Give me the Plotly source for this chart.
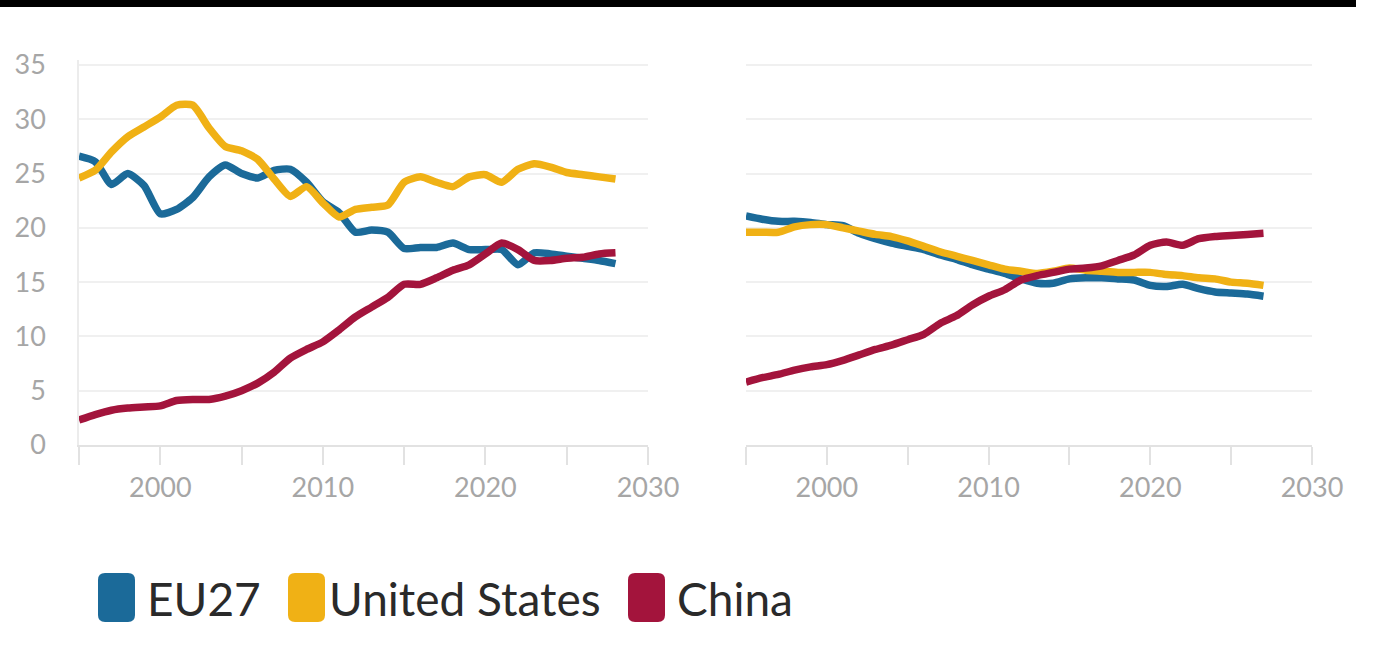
import plotly.graph_objects as go

# ---------------- data ----------------
years_left = list(range(1995, 2029))
years_right = list(range(1995, 2028))

series_names = ["EU27", "United States", "China"]
series_colors = ["#1b6a99", "#f0b115", "#a3143c"]

eu_left = [26.6, 26.1, 24.0, 25.0, 23.9, 21.3, 21.7, 22.8, 24.7, 25.8, 25.0, 24.6,
           25.3, 25.4, 24.2, 22.4, 21.4, 19.6, 19.8, 19.6, 18.1, 18.2, 18.2, 18.6,
           18.0, 18.0, 18.0, 16.6, 17.7, 17.6, 17.4, 17.2, 17.0, 16.7]
us_left = [24.6, 25.3, 27.0, 28.4, 29.3, 30.2, 31.3, 31.3, 29.2, 27.5, 27.1, 26.3,
           24.5, 22.9, 23.8, 22.3, 21.0, 21.7, 21.9, 22.1, 24.2, 24.7, 24.2, 23.8,
           24.7, 24.9, 24.2, 25.4, 25.9, 25.6, 25.1, 24.9, 24.7, 24.5]
cn_left = [2.3, 2.8, 3.2, 3.4, 3.5, 3.6, 4.1, 4.2, 4.2, 4.5, 5.0, 5.7,
           6.7, 8.0, 8.8, 9.5, 10.6, 11.8, 12.7, 13.6, 14.8, 14.8, 15.4, 16.1,
           16.6, 17.6, 18.6, 18.0, 17.0, 17.0, 17.2, 17.3, 17.6, 17.7]

eu_right = [21.1, 20.8, 20.6, 20.6, 20.5, 20.3, 20.2, 19.5, 19.0, 18.6, 18.3, 18.0,
            17.5, 17.1, 16.6, 16.2, 15.8, 15.3, 14.9, 14.9, 15.3, 15.4, 15.4, 15.3,
            15.2, 14.7, 14.6, 14.8, 14.4, 14.1, 14.0, 13.9, 13.7]
us_right = [19.6, 19.6, 19.6, 20.1, 20.3, 20.3, 20.0, 19.7, 19.4, 19.2, 18.8, 18.3,
            17.8, 17.4, 17.0, 16.6, 16.2, 16.0, 15.8, 16.0, 16.3, 16.1, 16.0, 15.9,
            15.9, 15.9, 15.7, 15.6, 15.4, 15.3, 15.0, 14.9, 14.7]
cn_right = [5.8, 6.2, 6.5, 6.9, 7.2, 7.4, 7.8, 8.3, 8.8, 9.2, 9.7, 10.2,
            11.2, 11.9, 12.9, 13.7, 14.3, 15.2, 15.6, 15.9, 16.2, 16.3, 16.5, 17.0,
            17.5, 18.4, 18.7, 18.4, 19.0, 19.2, 19.3, 19.4, 19.5]

x_ticks = [2000, 2010, 2020, 2030]
y_ticks = [0, 5, 10, 15, 20, 25, 30, 35]

# ---------------- figure ----------------
W, H = 1388, 653
fig = go.Figure()

left_series = [eu_left, us_left, cn_left]
right_series = [eu_right, us_right, cn_right]

for name, color, vals in zip(series_names, series_colors, left_series):
    fig.add_trace(go.Scatter(x=years_left, y=vals, mode="lines", name=name,
                             line=dict(color=color, width=7.5, shape="spline", smoothing=0.6),
                             xaxis="x", yaxis="y", showlegend=False))
for name, color, vals in zip(series_names, series_colors, right_series):
    fig.add_trace(go.Scatter(x=years_right, y=vals, mode="lines", name=name,
                             line=dict(color=color, width=7.5, shape="spline", smoothing=0.6),
                             xaxis="x2", yaxis="y2", showlegend=False))

tick_font = dict(family="Lato", size=27, color="#a6a6a6")
axis_grey = "#e2e2e2"
grid_grey = "#f0f0f0"

y_dom = [1 - 445 / H, 1 - 59.6 / H]

def xaxis_cfg(dom, anchor):
    return dict(domain=dom, anchor=anchor, range=[1995, 2030], automargin=False,
                tickmode="array", tickvals=x_ticks, ticktext=[str(t) for t in x_ticks],
                ticks="outside", ticklen=18, tickwidth=1.5, tickcolor=axis_grey,
                showline=True, linecolor=axis_grey, linewidth=1.5,
                showgrid=False, zeroline=False, tickfont=tick_font,
                ticklabelstandoff=0,
                minor=dict(dtick=5, tick0=1995, ticks="outside", ticklen=18,
                           tickwidth=1.5, tickcolor=axis_grey, showgrid=False))

def yaxis_cfg(anchor, labels):
    return dict(domain=y_dom, anchor=anchor, range=[0, 35.5], automargin=False,
                tickmode="array", tickvals=y_ticks,
                showgrid=True, gridcolor=grid_grey, gridwidth=1.5,
                zeroline=False, showticklabels=labels, ticks="",
                showline=labels, linecolor="#ececec", linewidth=1.5,
                tickfont=tick_font, ticklabelstandoff=26)

fig.update_layout(
    width=W, height=H, autosize=False,
    margin=dict(l=0, r=0, t=0, b=0, pad=0),
    paper_bgcolor="white", plot_bgcolor="white",
    xaxis=xaxis_cfg([79 / W, 648 / W], "y"),
    yaxis=yaxis_cfg("x", True),
    xaxis2=xaxis_cfg([746 / W, 1312 / W], "y2"),
    yaxis2=yaxis_cfg("x2", False),
)

# ---------------- custom legend ----------------
def rounded_rect(x0, y0, x1, y1, r):
    def P(x, y):
        return f"{x / W:.5f},{1 - y / H:.5f}"
    return (f"M {P(x0 + r, y0)} L {P(x1 - r, y0)} Q {P(x1, y0)} {P(x1, y0 + r)} "
            f"L {P(x1, y1 - r)} Q {P(x1, y1)} {P(x1 - r, y1)} "
            f"L {P(x0 + r, y1)} Q {P(x0, y1)} {P(x0, y1 - r)} "
            f"L {P(x0, y0 + r)} Q {P(x0, y0)} {P(x0 + r, y0)} Z")

legend_swatch_x = [98, 288, 628]
legend_text_x = [145, 327, 675]
for name, color, sx, tx in zip(series_names, series_colors, legend_swatch_x, legend_text_x):
    fig.add_shape(type="path", path=rounded_rect(sx, 573, sx + 37, 622, 7),
                  xref="paper", yref="paper", fillcolor=color, line=dict(width=0))
    fig.add_annotation(x=tx / W, y=1 - 598 / H, xref="paper", yref="paper",
                       text=name, showarrow=False, xanchor="left", yanchor="middle",
                       font=dict(family="Lato", size=46, color="#2a2a2a"))

# dark band at the very top of the picture
fig.add_shape(type="rect", xref="paper", yref="paper",
              x0=0, x1=1356 / W, y0=1 - 7 / H, y1=1,
              fillcolor="black", line=dict(width=0), layer="above")

post = ("document.documentElement.style.margin='0';"
        "document.body.style.margin='0';document.body.style.padding='0';"
        "document.documentElement.style.overflow='hidden';"
        "document.body.style.overflow='hidden';"
        "var d=document.getElementsByClassName('plotly-graph-div')[0];"
        "d.style.position='fixed';d.style.top='0px';d.style.left='0px';")
fig.write_html("out.html", post_script=post, config={"displayModeBar": False})
